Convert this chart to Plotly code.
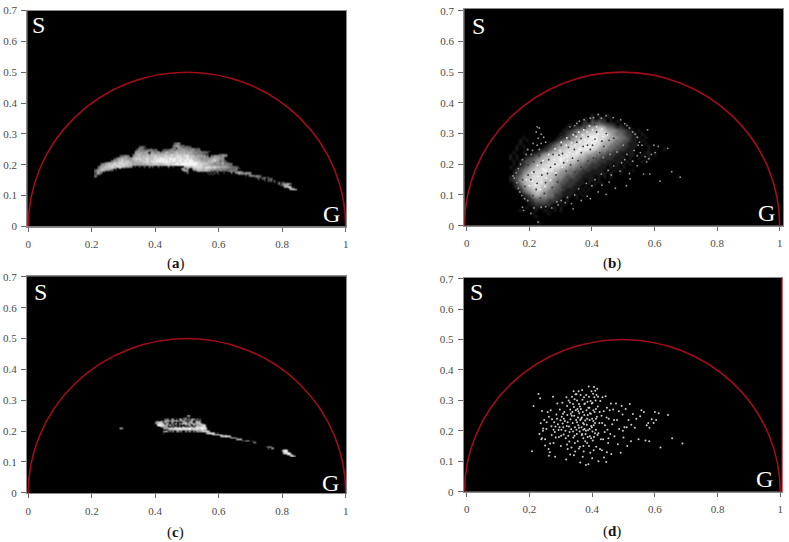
import plotly.graph_objects as go

W, H = 789, 542

tick_vals_x = [0, 0.2, 0.4, 0.6, 0.8, 1]
tick_text_x = ["0", "0.2", "0.4", "0.6", "0.8", "1"]
tick_vals_y = [0, 0.1, 0.2, 0.3, 0.4, 0.5, 0.6, 0.7]
tick_text_y = ["0", "0.1", "0.2", "0.3", "0.4", "0.5", "0.6", "0.7"]
captions = ["a", "b", "c", "d"]

# Pixel density, top row first. '.' = no pixels, 9 = brightest. Blocks of ten cells.
# panel a: cells start at g=0.21, step 0.005; rows s=0.270 down to 0.120, step 0.005
density_a = [
    ".......... .......... .......... .......... .......... 3454",
    ".......... .......... .......... .......... .........4 5654344",
    ".......... .......... ........34 43........ .........4 4565443443 3",
    ".......... .......... .......345 4.3..3.... ........34 5.46554545 454334",
    ".......... .......... ......3454 5434454343 ...3434455 4565566554 5554344",
    ".......... .......... .....45655 4566545444 5.54455565 6666757665 6554545434 3.3",
    ".......... .......... .....56566 5665.66555 6555676656 6776767667 6655545443 43",
    ".......... .......... ....456776 6567677666 6677766787 7787778776 6654454434 ........34 5443",
    ".......... ......3445 54..566776 7767677787 7777887787 7888878897 7776665656 45.4456554 5654",
    ".......... ....345566 5544677677 7778777887 8887888978 8898888887 8776665565 5445565665 54",
    ".......... ..34566766 6556778787 7788777888 8989888998 9888988898 8877766556 5656676665 54",
    ".......... 3465677867 7766677677 8788788889 9989898989 9889988989 9987877666 5767787654 543",
    "......3456 6677788778 8776666776 7888788898 8899899888 7888899999 9999887776 7677654554 64433",
    "....455677 7788788887 8776676666 7677767878 7777888788 8998999999 9999988878 7766655655 6545444",
    "...3566778 7887887888 7776655656 6566677676 7677878878 8899999999 9999888877 6666555454 5455443",
    "..45667777 8877888776 6655.3..2. .3..4.3... 3.2...4..3 ......5778 7688888877 8887787776 6665544443 3",
    "..46677778 7766.65.3. .......... .......... .......... ....377.64 .477788778 8887776655 5554544335 33",
    "3556776665 54.3...... .......... .......... .......... .....5665. ..56777767 7665555455 4544344444",
    "4566554.3. .......... .......... .......... .......... ......554. ....466565 645.4.34.3 3.3.555544 454",
    "35644..... .......... .......... .......... .......... ........4. .......... .3.4.3.3.. .3....4.45 665546554",
    "2455...... .......... .......... .......... .......... .......... .......... ..3.3...3. .......... 35445544 4",
    "43........ .......... .......... .......... .......... .......... .......... .......... .......... .....3.455 44543",
    "3......... .......... .......... .......... .......... .......... .......... .......... .......... .......... .3544.4433",
    ".......... .......... .......... .......... .......... .......... .......... .......... .......... .......... ...3.334.3 34",
    ".......... .......... .......... .......... .......... .......... .......... .......... .......... .......... .......3.3 33.3",
    ".......... .......... .......... .......... .......... .......... .......... .......... .......... .......... .......... ...3.34.34",
    ".......... .......... .......... .......... .......... .......... .......... .......... .......... .......... .......... .....34.45 5664",
    ".......... .......... .......... .......... .......... .......... .......... .......... .......... .......... .......... .......457 76",
    ".......... .......... .......... .......... .......... .......... .......... .......... .......... .......... .......... .........5 6787",
    ".......... .......... .......... .......... .......... .......... .......... .......... .......... .......... .......... .......... ..6776",
    ".......... .......... .......... .......... .......... .......... .......... .......... .......... .......... .......... .......... ...56665",
]
# panel b: soft cloud, cells start at g=0.14, step 0.01; rows s=0.360 down to 0.010, step 0.01
density_b = [
    ".......... .......... ......1.1. .1",
    ".......... .......... ....1.2.12 1.1",
    ".......... .......... .1.12.3232 2.1.1",
    ".......... .........1 .1.2233444 3322.1.1",
    ".......... ........1. 1233456677 6443221.1.",
    ".......... .......112 3445667788 7655433211 .1",
    ".......... ......1123 4567788888 8765443221 1.1",
    "....1..... .....11234 5678889988 8766544321 11.1",
    "...1.1.... ....123455 6788898988 7665443321 1.1",
    "...1...... ..12345667 7888989887 6654433211 1..1",
    "..1.1..... .123456778 8889898876 6544332211 1...1",
    "..1..1...1 1234567788 8898988765 5443322111 ....1....1",
    ".1..1..112 3456778888 8988776554 4332211111 ...11.1",
    "1.1..11233 5677888898 8877655443 3222111.11 ..1.1.1",
    "1.1.123345 6778889888 8766544332 2221111.1. .1.11",
    ".1.1233456 7788889887 7655443322 211111.1.1 ..1",
    ".1.1234567 7888988876 6544332221 111.1.1.1.",
    "1.12345677 8889887765 5443322211 1.1.1.1",
    ".123456788 8988776554 4332221111 .1.1.1...1",
    ".123567788 8887765544 3322111111 1.1..1",
    "1234677888 8877655433 3221111.1. 1.1",
    "1235678888 8776544332 2211.11.1.",
    ".124677888 8766543322 2111.1.1.1",
    ".123567888 7765443222 111.1.1",
    "..12456778 7654433211 11.1.1",
    "...1345677 6544332111 1.1.1",
    "....123566 5544322111 .1.1",
    "....112344 4433221.1. .1",
    ".....11233 3322211.1.",
    "......1122 2221.1.1",
    ".....1.111 1.1.1.1",
    "...1....1. .1..1.1",
    ".......1.. ..1",
    "........1",
    "",
    ".........1",
]
# panel b: individual pixels on top of the cloud (g, s)
specks_b_dark = [
 (.205,.150),(.222,.118),(.240,.165),(.215,.175),(.252,.140),(.268,.190),(.238,.205),(.262,.215),(.285,.165),(.295,.230),
 (.310,.205),(.276,.232),(.325,.255),(.338,.220),(.302,.262),(.352,.272),(.366,.238),(.348,.300),(.388,.290),(.402,.262),
 (.415,.305),(.378,.318),(.432,.275),(.446,.300),(.225,.138),(.196,.165),(.248,.105),(.273,.125),(.290,.142),(.318,.178),
 (.332,.198),(.356,.212),(.372,.258),(.395,.248),(.425,.238),(.438,.258),(.455,.278),(.470,.285),(.360,.318),(.408,.330),
 (.212,.098),(.235,.090),(.258,.170),(.282,.200),(.306,.235),(.328,.282),(.344,.248),(.365,.284),(.386,.262),(.410,.282),
 (.178,.150),(.186,.128),(.196,.198),(.214,.208),(.232,.228),(.256,.245),(.278,.268),(.300,.288),(.322,.305),(.342,.322),
 (.345,.175),(.365,.190),(.388,.210),(.405,.220),(.332,.150),(.305,.122),(.285,.100),(.268,.082),
]
specks_b_bright = [
 (.210,.145),(.228,.160),(.245,.185),(.262,.195),(.280,.215),(.298,.245),(.318,.262),(.335,.270),(.350,.290),(.370,.296),
 (.385,.306),(.402,.312),(.420,.298),(.436,.290),(.220,.132),(.238,.142),(.255,.155),(.272,.178),(.292,.198),(.312,.222),
 (.328,.238),(.346,.262),(.362,.272),(.378,.280),(.396,.288),(.412,.292),(.200,.130),(.190,.150),(.208,.172),(.226,.196),
 (.244,.212),(.262,.232),(.282,.250),(.302,.272),(.320,.286),(.340,.296),(.358,.305),(.374,.312),(.392,.325),(.415,.322),
 (.432,.315),(.450,.296),(.235,.118),(.250,.128),(.268,.148),(.285,.172),(.305,.190),(.322,.212),(.340,.232),(.360,.252),
 (.380,.258),(.400,.272),
]
specks_b_halo = [
 (.420,.362),(.445,.358),(.395,.350),(.405,.352),(.430,.350),(.468,.352),(.375,.345),(.360,.340),(.352,.333),(.345,.326),
 (.330,.322),(.492,.345),(.505,.332),(.512,.326),(.520,.318),(.530,.305),(.538,.298),(.545,.288),(.552,.272),(.548,.262),
 (.225,.322),(.232,.318),(.222,.305),(.238,.298),(.228,.285),(.246,.288),(.238,.268),(.252,.272),(.225,.262),(.212,.268),
 (.232,.248),(.210,.245),(.195,.248),(.206,.232),(.190,.232),(.178,.215),(.172,.200),(.165,.186),(.158,.172),(.152,.155),
 (.148,.162),(.160,.140),(.165,.122),(.170,.110),(.176,.098),(.185,.088),(.195,.082),(.178,.060),(.182,.050),(.205,.040),
 (.228,.012),(.215,.058),(.238,.060),(.252,.062),(.272,.058),(.292,.068),(.315,.075),(.335,.072),(.340,.055),(.366,.082),
 (.385,.096),(.395,.088),(.420,.110),(.445,.102),(.400,.130),(.432,.132),(.455,.142),(.475,.122),(.510,.130),(.522,.152),
 (.462,.165),(.490,.178),(.520,.170),(.545,.195),(.565,.168),(.585,.168),(.618,.145),(.655,.176),(.682,.158),(.642,.252),
 (.612,.258),(.598,.262),(.578,.312),(.560,.262),(.570,.225),(.582,.218),(.590,.232),(.602,.238),(.575,.208),(.535,.245),
 (.512,.232),(.495,.205),(.470,.195),(.505,.215),(.530,.210),(.555,.238),(.545,.228),(.452,.180),(.430,.168),(.410,.150),
 (.382,.138),(.358,.120),(.345,.100),(.322,.092),(.302,.082),(.288,.078),(.436,.222),(.458,.232),(.480,.240),(.500,.262),
]
# panel c: cells start at g=0.29, step 0.005; rows s=0.250 down to 0.120, step 0.005
density_c = [
    ".......... .......... .......... .......... ..45",
    ".......... .......... .......... .......... 34",
    ".......... .......... ........34 5.46.5.66. 45.5.65.4. 3",
    ".......... .......... ...4..4.67 7566786.75 6.6.76.544 4",
    ".......... .......... ..56787.64 5.65.6.5.6 67.576.577 6",
    ".......... .......... ..578888.7 6.7.66.567 7867.78667 864",
    ".......... .......... ...8998866 .6.5.5.6.4 .5.66.6.75 6787",
    ".......... .......... .....57656 ..4.55.6.6 5.6.66.788 8889",
    "55........ .......... .......566 6787888987 9889978888 89987",
    ".......... .......... .......... 6676788788 7868777887 78867",
    ".......... .......... .......456 .4.5.46.5. .5.46.5.65 5787876",
    ".......... .......... .......3.. .......... .......... ....678887 .5",
    ".......... .......... .......... .......... .......... ........67 87877.6",
    ".......... .......... .......... .......... .......... .......... ...6778876",
    ".......... .......... .......... .......... .......... .......... .........6 7865",
    ".......... .......... .......... .......... .......... .......... .......... ...5666",
    ".......... .......... .......... .......... .......... .......... .......... .......4.6 65.4",
    ".......... .......... .......... .......... .......... .......... .......... .......... ....44",
    ".......... .......... .......... .......... .......... .......... .......... .......... .....3",
    "",
    ".......... .......... .......... .......... .......... .......... .......... .......... .......... ..4665",
    ".......... .......... .......... .......... .......... .......... .......... .......... .......... ...5.55",
    ".......... .......... .......... .......... .......... .......... .......... .......... .......... .......... ..4785",
    ".......... .......... .......... .......... .......... .......... .......... .......... .......... .......... ..6898",
    ".......... .......... .......... .......... .......... .......... .......... .......... .......... .......... ...78897",
    ".......... .......... .......... .......... .......... .......... .......... .......... .......... .......... .....7888",
    ".......... .......... .......... .......... .......... .......... .......... .......... .......... .......... .......6766",
]
# panel d: individual pixels (g, s)
points_d = [
 (.213,.282),(.229,.321),(.234,.307),(.240,.265),(.208,.133),(.232,.190),(.238,.172),(.244,.208),(.236,.225),(.247,.236),
 (.243,.200),(.250,.172),(.255,.228),(.258,.262),(.261,.140),(.266,.158),(.262,.118),(.270,.215),(.272,.238),(.275,.312),
 (.279,.228),(.281,.196),(.284,.178),(.286,.254),(.289,.290),(.291,.222),(.293,.203),(.297,.270),(.299,.235),(.301,.184),
 (.303,.246),(.305,.292),(.306,.224),(.308,.212),(.309,.188),(.311,.262),(.313,.232),(.315,.200),(.317,.106),(.318,.310),
 (.320,.282),(.321,.252),(.322,.228),(.324,.184),(.326,.214),(.327,.165),(.329,.293),(.330,.270),(.331,.238),(.333,.205),
 (.334,.145),(.336,.312),(.337,.262),(.338,.226),(.339,.198),(.340,.178),(.341,.330),(.342,.278),(.343,.250),(.345,.212),
 (.346,.132),(.347,.320),(.348,.268),(.349,.236),(.350,.204),(.351,.190),(.352,.300),(.353,.272),(.354,.166),(.355,.244),
 (.356,.218),(.357,.330),(.358,.288),(.359,.258),(.360,.198),(.361,.148),(.362,.096),(.363,.318),(.364,.272),(.365,.240),
 (.366,.212),(.367,.186),(.368,.334),(.369,.302),(.370,.262),(.371,.226),(.372,.176),(.373,.132),(.374,.310),(.375,.252),
 (.376,.206),(.377,.290),(.378,.234),(.379,.190),(.380,.088),(.381,.318),(.382,.268),(.383,.220),(.384,.160),(.385,.296),
 (.386,.252),(.387,.202),(.388,.090),(.389,.346),(.390,.312),(.391,.276),(.392,.236),(.393,.182),(.394,.128),(.395,.298),
 (.396,.256),(.397,.216),(.398,.330),(.399,.290),(.400,.240),(.401,.198),(.402,.168),(.403,.322),(.404,.268),(.405,.218),
 (.406,.344),(.407,.310),(.408,.262),(.409,.192),(.410,.332),(.411,.300),(.412,.204),(.413,.148),(.414,.318),(.415,.246),
 (.416,.338),(.418,.280),(.420,.192),(.423,.226),(.426,.298),(.428,.172),(.430,.250),(.431,.136),(.433,.310),(.435,.172),
 (.437,.264),(.438,.112),(.441,.218),(.443,.314),(.445,.098),(.447,.276),(.449,.204),(.451,.160),(.453,.240),(.456,.268),
 (.458,.190),(.461,.124),(.464,.222),(.467,.270),(.471,.182),(.476,.290),(.479,.236),(.482,.156),(.486,.206),(.491,.128),
 (.494,.282),(.497,.254),(.500,.178),(.503,.212),(.507,.272),(.512,.150),(.516,.236),(.520,.288),(.524,.166),(.530,.255),
 (.536,.210),(.541,.240),(.548,.172),(.553,.248),(.557,.268),(.565,.262),(.570,.168),(.574,.218),(.579,.226),(.583,.210),
 (.590,.238),(.596,.226),(.600,.262),(.604,.236),(.612,.258),(.618,.145),(.642,.252),(.655,.176),(.688,.158),(.582,.166),
 (.262,.246),(.271,.186),(.288,.240),(.296,.212),(.307,.256),(.316,.176),(.325,.300),(.335,.250),(.344,.184),(.352,.228),
 (.358,.210),(.361,.280),(.367,.244),(.372,.204),(.375,.288),(.378,.166),(.384,.240),(.388,.276),(.392,.206),(.397,.176),
 (.401,.292),(.404,.232),(.409,.226),(.412,.272),(.417,.186),(.254,.206),(.268,.268),(.277,.204),(.283,.214),(.294,.180),
 (.302,.204),(.310,.240),(.319,.216),(.328,.196),(.332,.256),(.339,.288),(.344,.304),(.350,.320),(.356,.264),(.362,.236),
 (.368,.190),(.374,.222),(.380,.200),(.386,.180),(.393,.258),(.399,.212),(.406,.180),(.412,.240),(.419,.312),(.424,.262),
 (.432,.226),(.440,.196),(.446,.244),(.452,.176),(.460,.290),(.470,.236),(.485,.264),(.498,.200),(.510,.212),(.525,.220),
 (.277,.160),(.300,.150),(.322,.140),(.342,.120),(.358,.142),(.372,.150),(.390,.150),(.405,.136),(.425,.140),(.447,.130),
 (.265,.130),(.250,.152),(.240,.176),(.282,.115),(.330,.122),(.400,.110),(.420,.100),(.370,.115),(.345,.160),(.320,.155),
]

# panel layout, pixels: (left, right, top, bottom), g range, s range, labels
panels = [
    dict(box=(27.3, 346, 10.5, 226.5), xr=[-0.003, 1.001], yr=[0, 0.7], S=(38, 25), G=(331, 214), cap=(175.7, 263.3)),
    dict(box=(464.3, 783.3, 9, 225.7), xr=[-0.0077, 1.0115], yr=[0, 0.7055], S=(478.3, 25.7), G=(766.7, 213), cap=(611.7, 263.3)),
    dict(box=(27, 346, 276.3, 493.3), xr=[-0.004, 1.001], yr=[-0.002, 0.702], S=(40.7, 291.7), G=(330, 483), cap=(175.7, 532.7)),
    dict(box=(463.7, 782.3, 277.7, 491.7), xr=[-0.0096, 1.0064], yr=[0, 0.7033], S=(476.7, 291.7), G=(764, 479), cap=(611.7, 531)),
]
circle_span = [(0, 1), (-0.007, 1.0), (0, 1), (-0.007, 1.0)]

GREY = [[0, "#000000"], [0.25, "#3a3a3a"], [0.55, "#8c8c8c"], [0.8, "#c4c4c4"], [1, "#f6f6f6"]]


def cells(rows):
    rows = [r.replace(" ", "") for r in rows]
    n = max(len(r) for r in rows)
    return [[0 if c == "." else int(c) for c in r.ljust(n, ".")] for r in reversed(rows)]


def heat(rows, x0, dx, y0, dy, xa, ya):
    return go.Heatmap(z=cells(rows), x0=x0, dx=dx, y0=y0, dy=dy, xaxis=xa, yaxis=ya, colorscale=GREY,
                      zmin=0, zmax=9, showscale=False, zsmooth="best", hoverinfo="skip")


def dots(points, xa, ya, color, size):
    return go.Scatter(x=[p[0] for p in points], y=[p[1] for p in points], xaxis=xa, yaxis=ya, mode="markers",
                      marker=dict(color=color, size=size, line=dict(width=0)), hoverinfo="skip")


fig = go.Figure()
fig.add_trace(heat(density_a, 0.21, 0.005, 0.12, 0.005, "x", "y"))
fig.add_trace(heat(density_b, 0.14, 0.01, 0.01, 0.01, "x2", "y2"))
fig.add_trace(dots(specks_b_halo, "x2", "y2", "#9a9a9a", 1.8))
fig.add_trace(dots(specks_b_dark, "x2", "y2", "#333333", 1.8))
fig.add_trace(dots(specks_b_bright, "x2", "y2", "#f4f4f4", 1.8))
fig.add_trace(heat(density_c, 0.29, 0.005, 0.12, 0.005, "x3", "y3"))
fig.add_trace(dots(points_d, "x4", "y4", "#d0d0d0", 2))

layout = dict(width=W, height=H, margin=dict(l=0, r=0, t=0, b=0, autoexpand=False), paper_bgcolor="white", showlegend=False,
              plot_bgcolor="black", font=dict(family="Liberation Serif", color="#4a4a4a", size=11))
shapes, annotations = [], []
for i, p in enumerate(panels):
    sfx = "" if i == 0 else str(i + 1)
    l, r, t, b = p["box"]
    layout["xaxis" + sfx] = dict(domain=[l / W, r / W], range=p["xr"], anchor="y" + sfx, tickvals=tick_vals_x,
                                 ticktext=tick_text_x, ticks="outside", ticklen=4, tickcolor="#666", tickwidth=1,
                                 showgrid=False, zeroline=False, showline=True, mirror=True, linecolor="#8a8a8a",
                                 linewidth=1, ticklabelstandoff=3, automargin=False)
    layout["yaxis" + sfx] = dict(domain=[1 - b / H, 1 - t / H], range=p["yr"], anchor="x" + sfx, tickvals=tick_vals_y,
                                 ticktext=tick_text_y, ticks="outside", ticklen=5, tickcolor="#666", tickwidth=1,
                                 showgrid=False, zeroline=False, showline=True, mirror=True, linecolor="#8a8a8a",
                                 linewidth=1, ticklabelstandoff=2, automargin=False)
    x0, x1 = circle_span[i]
    shapes.append(dict(type="circle", xref="x" + sfx, yref="y" + sfx, x0=x0, x1=x1, y0=-0.5, y1=0.5,
                       line=dict(color="#a00c18", width=1.6), layer="above"))
    for letter, key in (("S", "S"), ("G", "G")):
        px, py = p[key]
        annotations.append(dict(text=letter, x=px / W, y=1 - py / H, xref="paper", yref="paper", showarrow=False,
                                xanchor="center", yanchor="middle", font=dict(size=24, color="white", family="Liberation Serif")))
    px, py = p["cap"]
    annotations.append(dict(text="(<b>%s</b>)" % captions[i], x=px / W, y=1 - py / H, xref="paper", yref="paper",
                            showarrow=False, xanchor="center", yanchor="middle",
                            font=dict(size=15, color="#111111", family="Liberation Serif")))
shapes.append(dict(type="line", xref="x4 domain", yref="y4 domain", x0=1, x1=1, y0=0, y1=1,
                   line=dict(color="#e05a60", width=1.2), layer="above"))
layout["shapes"] = shapes
layout["annotations"] = annotations
fig.update_layout(**layout)
fig.write_html("out.html", post_script="document.body.style.margin='0';", config={"displayModeBar": False})
